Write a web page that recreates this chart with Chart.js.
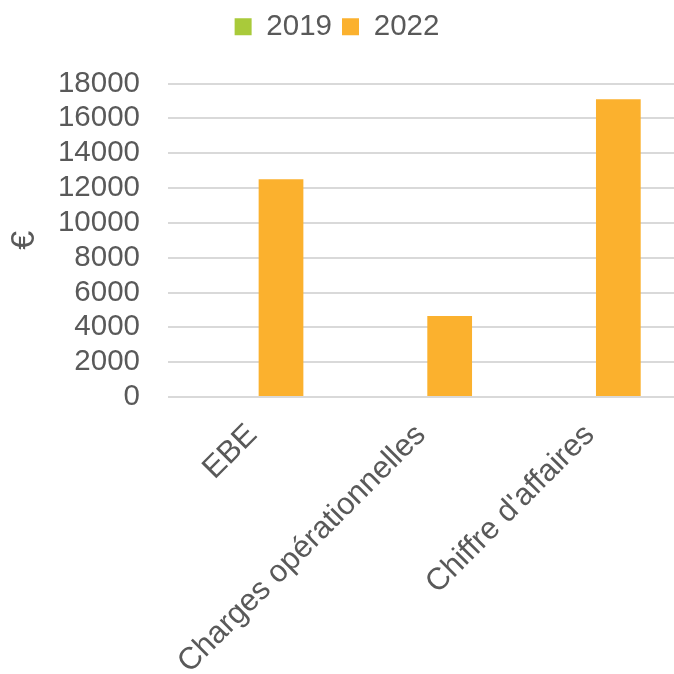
<!DOCTYPE html>
<html>
<head>
<meta charset="utf-8">
<script src="https://cdn.jsdelivr.net/npm/chart.js@4/dist/chart.umd.min.js"></script>
<style>
    html, body { margin: 0; padding: 0; background: #fff; }
    #wrap { width: 674px; height: 674px; }
</style>
</head>
<body>
<div id="wrap"><canvas id="chart" width="674" height="674"></canvas></div>
<script>
// Données
const categories = ['EBE', 'Charges opérationnelles', "Chiffre d'affaires"];
const values2019 = [0, 0, 0];
const values2022 = [12500, 4650, 17100];
const yTicks = [0, 2000, 4000, 6000, 8000, 10000, 12000, 14000, 16000, 18000];

const textColor = '#595959';
const fontFamily = '"Liberation Sans", Arial, sans-serif';
const fontSize = 29.5;

// espace supplémentaire sous la légende
const legendMargin = {
    id: 'legendMargin',
    beforeInit(chart) {
        const fit = chart.legend.fit;
        chart.legend.fit = function () {
            fit.bind(chart.legend)();
            this.height += 32;
        };
    }
};

const ctx = document.getElementById('chart').getContext('2d');

new Chart(ctx, {
    type: 'bar',
    data: {
        labels: categories,
        datasets: [
            {
                label: '2019',
                data: values2019,
                backgroundColor: '#a9ca3a'
            },
            {
                label: '2022',
                data: values2022,
                backgroundColor: '#fbb12e'
            }
        ]
    },
    options: {
        responsive: false,
        animation: false,
        layout: { padding: { top: 2, right: 0, left: 0, bottom: 0 } },
        datasets: {
            bar: { categoryPercentage: 0.68, barPercentage: 0.78 }
        },
        plugins: {
            legend: {
                position: 'top',
                labels: {
                    color: textColor,
                    boxWidth: 17,
                    boxHeight: 17,
                    padding: 10,
                    font: { family: fontFamily, size: fontSize }
                }
            },
            tooltip: { enabled: false }
        },
        scales: {
            x: {
                grid: { display: false },
                border: { display: false },
                ticks: {
                    color: textColor,
                    padding: 12,
                    font: { family: fontFamily, size: 31 },
                    minRotation: 45,
                    maxRotation: 45,
                    autoSkip: false
                },
                afterFit: (scale) => { scale.height = 277; }
            },
            y: {
                min: 0,
                max: 18000,
                afterBuildTicks: (scale) => {
                    scale.ticks = yTicks.map(v => ({ value: v }));
                },
                grid: { color: '#d9d9d9', lineWidth: 2, drawTicks: false },
                border: { display: false },
                ticks: {
                    color: textColor,
                    padding: 28,
                    autoSkip: false,
                    font: { family: fontFamily, size: fontSize },
                    callback: (value) => String(value)
                },
                title: {
                    display: true,
                    text: '€',
                    color: textColor,
                    font: { family: fontFamily, size: 34 },
                    padding: { top: 4, bottom: 0 }
                },
                afterFit: (scale) => { scale.width = 168; }
            }
        }
    },
    plugins: [legendMargin]
});
</script>
</body>
</html>
